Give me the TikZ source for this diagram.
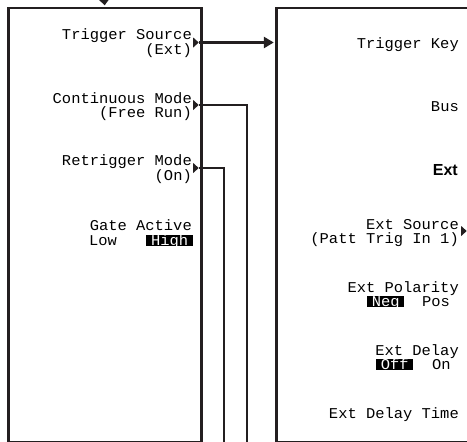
\documentclass[tikz,border=0pt]{standalone}
\usepackage{fontspec}
\newfontfamily\hpmono[FakeStretch=1.03]{Liberation Mono}
\newfontfamily\hpsans{Liberation Sans}
\usetikzlibrary{arrows.meta}
\definecolor{ink}{RGB}{35,31,32}
\begin{document}
\begin{tikzpicture}[x=1pt,y=-1pt,
  panel/.style={draw=ink, line width=2.6pt, inner sep=0pt, minimum width=193pt, minimum height=434pt, anchor=north west},
  conn/.style={draw=ink, line width=2.6pt},
  lbl/.style={font=\hpmono\fontsize{15}{13.5}\selectfont, inner sep=0pt, anchor=base east},
  lbltwo/.style={lbl, align=right},
  lblw/.style={lbl, anchor=base west},
  boldlbl/.style={font=\hpsans\bfseries\fontsize{16}{16}\selectfont, inner sep=0pt, anchor=base east},
  inv/.style={lbl, anchor=base west, fill=black, text=white, inner xsep=4.63pt, inner ysep=0pt, text height=10.5pt, text depth=1pt},
  ahead/.style={-{Triangle[length=10pt,width=11pt]}, shorten >=1.2pt}
]
\clip (0,0) rectangle (467,442);
\node[panel] (L) at (7,6.5) {};
\node[panel] (R) at (275,6.5) {};
% softkey markers
\coordinate (mTS) at (198.7,42.5);
\coordinate (mCM) at (198.7,105);
\coordinate (mRM) at (198.7,168);
\coordinate (mES) at (466.7,231);
\foreach \m in {mTS,mCM,mRM,mES} \fill[ink] (\m) -- ++(-5.5,-5) -- ++(0,10) -- cycle;
% connectors
\coordinate (top) at (103.5,-8);
\draw[conn,-{Triangle[length=6.5pt,width=11pt]}, shorten >=1.2pt] (top) -- (L.north);
\draw[conn,ahead] (mTS) -- (R.west |- mTS);
\coordinate (cmEnd) at (247,446);
\coordinate (rmEnd) at (224,446);
\draw[conn] (mCM) -| (cmEnd);
\draw[conn] (mRM) -| (rmEnd);
% left panel texts
\node[lbltwo] (ts) at (192,54) {Trigger Source\\(Ext)};
\node[lbltwo] (cm) at (192,117) {Continuous Mode\\(Free Run)};
\node[lbltwo] (rm) at (192,180) {Retrigger Mode\\(On)};
\node[lbl] (ga1) at (192,230) {Gate Active};
\node[lblw] (low) at (89,245) {Low};
\node[inv, anchor=base east] (high) at (193,245) {High};
% right panel texts
\node[lbl] (tk) at (459,48) {Trigger Key};
\node[lbl] (bus) at (459,111) {Bus};
\node[boldlbl] (ext) at (458,175) {Ext};
\node[lbltwo] (es) at (459,243) {Ext Source\\(Patt Trig In 1)};
\node[lbl] (ep) at (459,292) {Ext Polarity};
\node[inv] (neg) at (367,306) {Neg};
\node[lblw] (pos) at (422,306) {Pos};
\node[lbl] (ed) at (459,355) {Ext Delay};
\node[inv] (off) at (376,369) {Off};
\node[lblw] (on) at (432,369) {On};
\node[lbl] (edt) at (459,418) {Ext Delay Time};
\end{tikzpicture}
\end{document}
